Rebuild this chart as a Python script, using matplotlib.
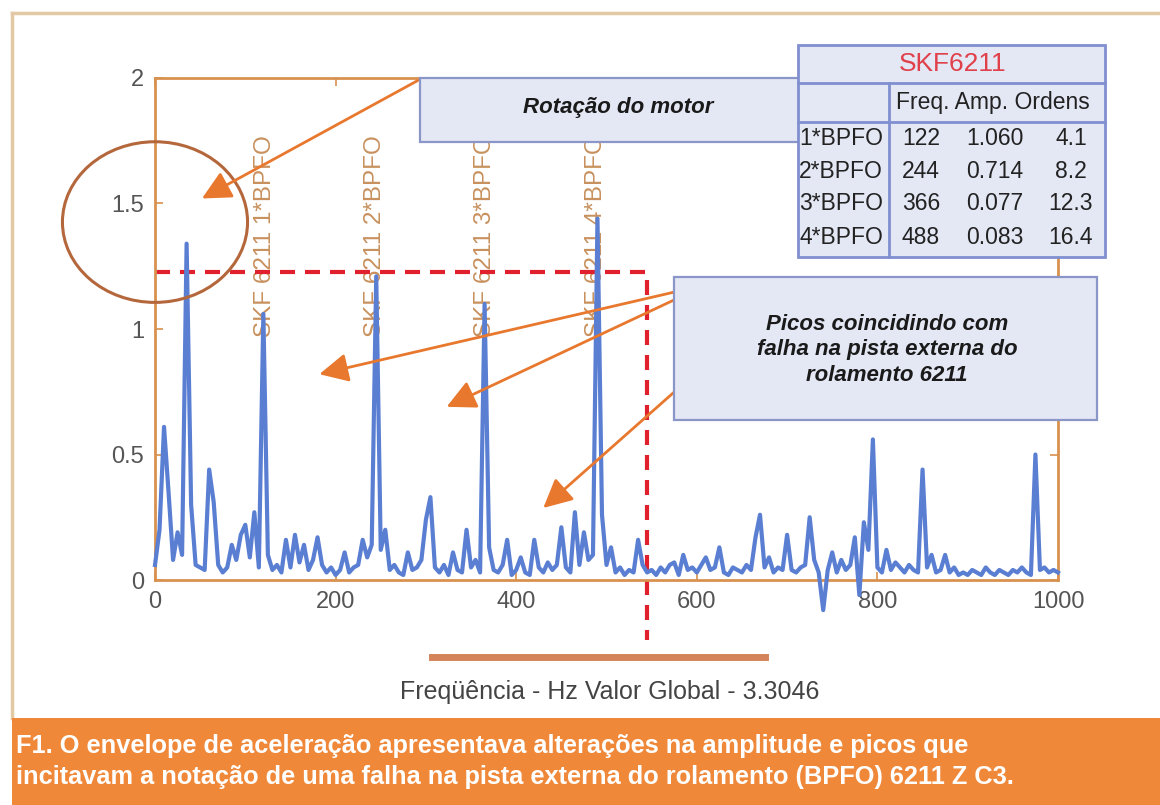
import numpy as np
import matplotlib
matplotlib.use('Agg')
import matplotlib.pyplot as plt
from matplotlib.patches import Rectangle, Ellipse
from matplotlib.lines import Line2D

# data: envelope spectrum (5 Hz steps, 0..1000 Hz)
freq = np.arange(0, 1001, 5)
amplitude = [
    0.06, 0.20, 0.61, 0.35, 0.08, 0.19, 0.10, 1.34, 0.30, 0.06,   # 0-45
    0.05, 0.04, 0.44, 0.31, 0.06, 0.03, 0.05, 0.14, 0.08, 0.18,   # 50-95
    0.22, 0.09, 0.27, 0.05, 1.06, 0.10, 0.04, 0.06, 0.03, 0.16,   # 100-145
    0.05, 0.18, 0.07, 0.14, 0.04, 0.08, 0.17, 0.06, 0.03, 0.05,   # 150-195
    0.02, 0.04, 0.11, 0.03, 0.05, 0.06, 0.16, 0.09, 0.14, 1.21,   # 200-245
    0.12, 0.20, 0.04, 0.06, 0.03, 0.02, 0.11, 0.04, 0.05, 0.08,   # 250-295
    0.24, 0.33, 0.05, 0.03, 0.06, 0.02, 0.11, 0.04, 0.03, 0.20,   # 300-345
    0.05, 0.08, 0.03, 1.10, 0.13, 0.04, 0.03, 0.06, 0.16, 0.02,   # 350-395
    0.04, 0.09, 0.03, 0.02, 0.16, 0.05, 0.03, 0.07, 0.04, 0.06,   # 400-445
    0.21, 0.05, 0.03, 0.27, 0.06, 0.19, 0.08, 0.10, 1.44, 0.26,   # 450-495
    0.06, 0.13, 0.03, 0.05, 0.02, 0.04, 0.03, 0.16, 0.06, 0.03,   # 500-545
    0.04, 0.02, 0.05, 0.03, 0.06, 0.07, 0.02, 0.10, 0.04, 0.05,   # 550-595
    0.03, 0.06, 0.09, 0.04, 0.05, 0.13, 0.03, 0.02, 0.05, 0.04,   # 600-645
    0.03, 0.06, 0.04, 0.17, 0.26, 0.05, 0.09, 0.03, 0.05, 0.04,   # 650-695
    0.18, 0.04, 0.03, 0.05, 0.06, 0.25, 0.08, 0.03, -0.12, 0.04,  # 700-745
    0.11, 0.03, 0.08, 0.04, 0.06, 0.17, -0.06, 0.23, 0.12, 0.56,  # 750-795
    0.05, 0.03, 0.12, 0.04, 0.07, 0.05, 0.03, 0.06, 0.04, 0.03,   # 800-845
    0.44, 0.05, 0.10, 0.03, 0.04, 0.10, 0.03, 0.05, 0.02, 0.03,   # 850-895
    0.02, 0.04, 0.03, 0.02, 0.05, 0.03, 0.02, 0.04, 0.03, 0.02,   # 900-945
    0.04, 0.03, 0.05, 0.03, 0.02, 0.50, 0.04, 0.05, 0.03, 0.04,   # 950-995
    0.03,                                                          # 1000
]

bpfo_names = ['1*BPFO', '2*BPFO', '3*BPFO', '4*BPFO']
bpfo_freq = [122, 244, 366, 488]
bpfo_amp = ['1.060', '0.714', '0.077', '0.083']
bpfo_order = ['4.1', '8.2', '12.3', '16.4']

W, H = 1160, 805
plt.rcParams['font.family'] = ['Liberation Sans', 'DejaVu Sans']

def fx(x):
    return x / W

def fy(y):
    return 1 - y / H

fig = plt.figure(figsize=(W / 100, H / 100), dpi=100)

orange = '#e8782e'
spine_c = '#d8914f'

ax = fig.add_axes([fx(155), fy(580), 903 / W, 502 / H])
ax.set_facecolor('none')
ax.plot(freq, amplitude, color='#5a7fd2', lw=3, zorder=3, clip_on=False)
ax.set_xlim(0, 1000)
ax.set_ylim(0, 2)
ax.set_xticks([0, 200, 400, 600, 800, 1000])
ax.set_yticks([0, 0.5, 1, 1.5, 2])
ax.set_yticklabels(['0', '0.5', '1', '1.5', '2'])
ax.tick_params(direction='in', top=True, right=True, length=6, width=1.2,
               color=spine_c, labelsize=17, labelcolor='#555555', pad=8)
for s in ax.spines.values():
    s.set_color(spine_c)
    s.set_linewidth(2)

# harmonic labels
for i, f in enumerate(bpfo_freq):
    ax.text(f, 0.97, 'SKF 6211 ' + bpfo_names[i], rotation=90, ha='center', va='bottom',
            color='#c8915e', fontsize=17.5, zorder=2)

# red dashed limit
ax.plot([0, 545, 545], [1.227, 1.227, -0.24], color='#e0202c', lw=3,
        ls=(0, (3.6, 2.4)), clip_on=False, zorder=2.5)

# circle around motor rotation peak
ax.add_patch(Ellipse((0, 1.426), 205, 0.64, fill=False, ec='#b5673c', lw=2.2,
                     clip_on=False, zorder=4))

# arrows
arrows = [((291, 1.99), (52, 1.52)),
          ((575, 1.147), (182, 0.82)),
          ((575, 1.116), (323, 0.69)),
          ((575, 0.749), (430, 0.287))]
for tail, head in arrows:
    ax.annotate('', xy=head, xytext=tail, annotation_clip=False,
                arrowprops=dict(arrowstyle='-|>,head_length=0.8,head_width=0.4',
                                color=orange, lw=2, mutation_scale=22,
                                shrinkA=0, shrinkB=0), zorder=5)

box_fc = '#e4e7f4'
box_ec = '#8a96c8'

# callout boxes
fig.add_artist(Rectangle((fx(420), fy(142)), 380 / W, 64 / H, transform=fig.transFigure,
                         fc=box_fc, ec=box_ec, lw=1.6, zorder=5))
fig.text(fx(618), fy(108), 'Rotação do motor', ha='center', va='center', fontsize=16,
         style='italic', weight='bold', color='#1a1a1a', zorder=6)

fig.add_artist(Rectangle((fx(674), fy(420)), 423 / W, 143 / H, transform=fig.transFigure,
                         fc=box_fc, ec=box_ec, lw=1.6, zorder=5))
fig.text(fx(887), fy(350), 'Picos coincidindo com\nfalha na pista externa do\nrolamento 6211',
         ha='center', va='center', fontsize=16, style='italic', weight='bold',
         color='#1a1a1a', linespacing=1.3, zorder=6)

# table
tx0, tx1, ty0, ty1 = 798, 1105, 45, 257
tab_ec = '#7f8fd0'
fig.add_artist(Rectangle((fx(tx0), fy(ty1)), (tx1 - tx0) / W, (ty1 - ty0) / H,
                         transform=fig.transFigure, fc=box_fc, ec=tab_ec, lw=2, zorder=7))
for yy in [83, 122]:
    fig.add_artist(Line2D([fx(tx0), fx(tx1)], [fy(yy), fy(yy)], color=tab_ec, lw=2, zorder=8))
fig.add_artist(Line2D([fx(889), fx(889)], [fy(83), fy(ty1)], color=tab_ec, lw=2, zorder=8))
fig.text(fx(953), fy(64), 'SKF6211', ha='center', va='center', fontsize=19,
         color='#e0404a', zorder=9)
fig.text(fx(896), fy(103), 'Freq. Amp. Ordens', ha='left', va='center', fontsize=16.5,
         color='#222222', zorder=9)
row_y = [138, 171, 204, 237]
for i in range(4):
    fig.text(fx(799), fy(row_y[i]), bpfo_names[i], ha='left', va='center', fontsize=16.5,
             color='#222222', zorder=9)
    fig.text(fx(921), fy(row_y[i]), str(bpfo_freq[i]), ha='center', va='center', fontsize=16.5,
             color='#222222', zorder=9)
    fig.text(fx(995), fy(row_y[i]), bpfo_amp[i], ha='center', va='center', fontsize=16.5,
             color='#222222', zorder=9)
    fig.text(fx(1071), fy(row_y[i]), bpfo_order[i], ha='center', va='center', fontsize=16.5,
             color='#222222', zorder=9)

# outer frame
frame_c = '#e3c8a5'
fig.add_artist(Line2D([fx(12), fx(12)], [fy(13), fy(718)], color=frame_c, lw=2.5, zorder=1))
fig.add_artist(Line2D([fx(12), 1], [fy(13), fy(13)], color=frame_c, lw=2.5, zorder=1))

# x label with bar
fig.add_artist(Line2D([fx(432), fx(765)], [fy(657), fy(657)], color='#d4845a', lw=5, zorder=1))
fig.text(fx(610), fy(692), 'Freqüência - Hz Valor Global - 3.3046', ha='center', va='center',
         fontsize=18, color='#444444')

# caption band
fig.add_artist(Rectangle((fx(12), 0), 1 - fx(12), (805 - 718) / H,
                         transform=fig.transFigure, fc='#f0883a', ec='none', zorder=1))
fig.text(fx(16), fy(746), 'F1. O envelope de aceleração apresentava alterações na amplitude e picos que',
         ha='left', va='center', fontsize=18.3, weight='bold', color='white', zorder=2)
fig.text(fx(16), fy(777), 'incitavam a notação de uma falha na pista externa do rolamento (BPFO) 6211 Z C3.',
         ha='left', va='center', fontsize=18.3, weight='bold', color='white', zorder=2)

fig.savefig('out.png', dpi=100)
